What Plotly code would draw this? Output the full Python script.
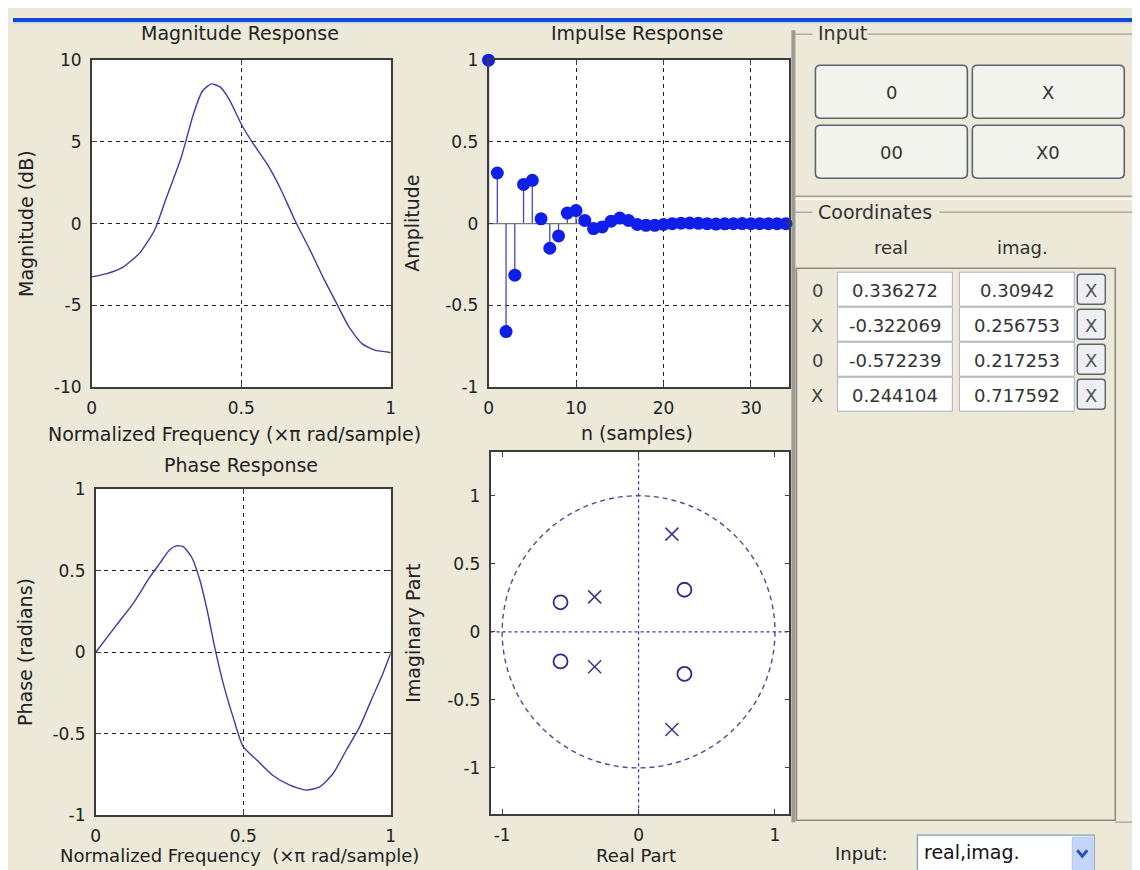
import plotly.graph_objects as go

W, H = 1140, 870
FONT = "DejaVu Sans"
BG = "#ECE9D8"

# ---------------- data ----------------
freq_mag = [0.0, 0.05, 0.105, 0.16, 0.21, 0.25, 0.30, 0.34, 0.37, 0.40, 0.43, 0.46,
            0.50, 0.54, 0.585, 0.63, 0.68, 0.73, 0.78, 0.82, 0.86, 0.905, 0.95, 0.99, 1.0]
mag_db = [-3.25, -3.05, -2.65, -1.8, -0.4, 1.6, 4.1, 6.7, 8.1, 8.55, 8.35, 7.6,
          6.1, 4.9, 3.7, 2.2, 0.2, -1.6, -3.5, -4.9, -6.3, -7.35, -7.75, -7.85, -7.9]

freq_ph = [0.0, 0.07, 0.127, 0.183, 0.217, 0.25, 0.273, 0.296, 0.324, 0.353, 0.38, 0.403,
           0.432, 0.466, 0.50, 0.545, 0.60, 0.658, 0.714, 0.76, 0.805, 0.85, 0.895, 0.94, 0.974, 1.0]
phase_rad = [0.0, 0.166, 0.30, 0.46, 0.545, 0.627, 0.652, 0.648, 0.587, 0.443, 0.239, 0.034,
             -0.19, -0.40, -0.58, -0.66, -0.755, -0.816, -0.846, -0.826, -0.744, -0.60, -0.458, -0.27, -0.13, -0.007]

imp_n = list(range(35))
imp_val = [1.0, 0.31, -0.66, -0.315, 0.24, 0.265, 0.03, -0.15, -0.075, 0.065, 0.08, 0.02,
           -0.03, -0.02, 0.015, 0.035, 0.02, -0.005, -0.01, -0.01, -0.005, 0.0, 0.003, 0.004,
           0.002, 0.0, -0.002, -0.001, 0.0, 0.001, 0.0, 0.0, 0.0, 0.0, 0.0]

coord_type = ["0", "X", "0", "X"]
coord_real = ["0.336272", "-0.322069", "-0.572239", "0.244104"]
coord_imag = ["0.30942", "0.256753", "0.217253", "0.717592"]

button_labels = ["0", "X", "00", "X0"]

mag_ticks = [-10, -5, 0, 5, 10]
ph_ticks = [-1, -0.5, 0, 0.5, 1]
imp_yticks = [-1, -0.5, 0, 0.5, 1]
imp_xticks = [0, 10, 20, 30]
freq_ticks = [0, 0.5, 1]
pz_xticks = [-1, 0, 1]
pz_yticks = [-1, -0.5, 0, 0.5, 1]

# ---------------- helpers ----------------
# map a screen pixel position (as seen in the captured page) to paper fraction
SX, OX = 0.9917, 13.2
SY, OY = 0.977, 17.8

def fx(px):
    return ((px - OX) / SX) / W

def fy(py):
    return 1 - ((py - OY) / SY) / H

def tick_text(vals):
    return ["%g" % v for v in vals]

fig = go.Figure()

LINE_BLUE = "#3c3ca6"

# Magnitude
fig.add_trace(go.Scatter(x=freq_mag, y=mag_db, mode="lines",
                         line=dict(color=LINE_BLUE, width=1.4, shape="spline", smoothing=0.6),
                         xaxis="x", yaxis="y", showlegend=False, hoverinfo="skip"))
# Impulse stems
sx, sy = [], []
for n, v in zip(imp_n, imp_val):
    sx += [n, n, None]
    sy += [0, v, None]
fig.add_trace(go.Scatter(x=sx, y=sy, mode="lines", line=dict(color="#4848b8", width=1.3),
                         xaxis="x2", yaxis="y2", showlegend=False, hoverinfo="skip"))
fig.add_trace(go.Scatter(x=[0, imp_n[-1]], y=[0, 0], mode="lines", line=dict(color="#777777", width=1.3),
                         xaxis="x2", yaxis="y2", showlegend=False, hoverinfo="skip"))
fig.add_trace(go.Scatter(x=imp_n, y=imp_val, mode="markers", marker=dict(color="#0f1ee8", size=13),
                         xaxis="x2", yaxis="y2", showlegend=False, cliponaxis=False, hoverinfo="skip"))
# Phase
fig.add_trace(go.Scatter(x=freq_ph, y=phase_rad, mode="lines",
                         line=dict(color=LINE_BLUE, width=1.4, shape="spline", smoothing=0.6),
                         xaxis="x3", yaxis="y3", showlegend=False, hoverinfo="skip"))

# Pole-zero (conjugate pairs from the coordinate table)
z_re, z_im, p_re, p_im = [], [], [], []
for t, r, i in zip(coord_type, coord_real, coord_imag):
    r, i = float(r), float(i)
    if t == "0":
        z_re += [r, r]; z_im += [i, -i]
    else:
        p_re += [r, r]; p_im += [i, -i]

shapes = []
shapes.append(dict(type="circle", xref="x4", yref="y4", x0=-1, y0=-1, x1=1, y1=1,
                   line=dict(color="#4a4a9a", width=1.4, dash="5px,4px"), layer="below"))
shapes.append(dict(type="line", xref="x4", yref="y4 domain", x0=0, x1=0, y0=0, y1=1,
                   line=dict(color="#3434a8", width=1.2, dash="3px,3px"), layer="below"))
shapes.append(dict(type="line", xref="x4 domain", yref="y4", x0=0, x1=1, y0=0, y1=0,
                   line=dict(color="#3434a8", width=1.2, dash="3px,3px"), layer="below"))

fig.add_trace(go.Scatter(x=z_re, y=z_im, mode="markers",
                         marker=dict(symbol="circle-open", size=14, color="#2c2c8c", line=dict(width=1.8)),
                         xaxis="x4", yaxis="y4", showlegend=False, hoverinfo="skip"))
fig.add_trace(go.Scatter(x=p_re, y=p_im, mode="markers",
                         marker=dict(symbol="x-thin-open", size=13, color="#3a3a8e", line=dict(width=1.6, color="#3a3a8e")),
                         xaxis="x4", yaxis="y4", showlegend=False, hoverinfo="skip"))

# ---------------- axes ----------------
TICKFONT = dict(family=FONT, size=17, color="#222222")
def axis(domain, rng, tickvals, grid=True, anchor=None):
    d = dict(domain=domain, range=rng, tickvals=tickvals, ticktext=tick_text(tickvals),
             showline=True, linecolor="#3c3c3c", linewidth=1.6, mirror="ticks",
             ticks="inside", ticklen=5, tickcolor="#3c3c3c", tickwidth=1,
             showgrid=grid, gridcolor="#1e1e1e", gridwidth=1, griddash="4px,4px",
             zeroline=False, tickfont=TICKFONT, fixedrange=True, ticklabelstandoff=5)
    if anchor:
        d["anchor"] = anchor
    return d

layout_axes = dict(
    xaxis=axis([fx(92), fx(391)], [0, 1], freq_ticks, anchor="y"),
    yaxis=axis([fy(387), fy(60)], [-10, 10], mag_ticks, anchor="x"),
    xaxis2=axis([fx(489), fx(790)], [0, 34.4], imp_xticks, anchor="y2"),
    yaxis2=axis([fy(387), fy(60)], [-1, 1], imp_yticks, anchor="x2"),
    xaxis3=axis([fx(96), fx(391)], [0, 1], freq_ticks, anchor="y3"),
    yaxis3=axis([fy(815), fy(489)], [-1, 1], ph_ticks, anchor="x3"),
    xaxis4=axis([fx(491), fx(790)], [-1.085, 1.106], pz_xticks, grid=False, anchor="y4"),
    yaxis4=axis([fy(814), fy(452)], [-1.34, 1.32], pz_yticks, grid=False, anchor="x4"),
)

# ---------------- background / GUI shapes ----------------
def rect(x0, y0, x1, y1, fill=None, line_color=None, lw=1, layer="below"):
    d = dict(type="rect", xref="paper", yref="paper", x0=fx(x0), x1=fx(x1), y0=fy(y1), y1=fy(y0), layer=layer,
             line=dict(width=lw if line_color else 0, color=line_color or "rgba(0,0,0,0)"))
    if fill:
        d["fillcolor"] = fill
    return d

def hline(x0, x1, y, color, lw=1):
    return dict(type="line", xref="paper", yref="paper", x0=fx(x0), x1=fx(x1), y0=fy(y), y1=fy(y),
                line=dict(color=color, width=lw), layer="below")

def rrect(x0, y0, x1, y1, r, fill, line_color, lw=1.5):
    rx, ry = r / W, r / H
    X0, X1 = fx(x0), fx(x1)
    Y0, Y1 = fy(y1), fy(y0)
    p = (f"M {X0+rx},{Y0} L {X1-rx},{Y0} Q {X1},{Y0} {X1},{Y0+ry} L {X1},{Y1-ry} Q {X1},{Y1} {X1-rx},{Y1} "
         f"L {X0+rx},{Y1} Q {X0},{Y1} {X0},{Y1-ry} L {X0},{Y0+ry} Q {X0},{Y0} {X0+rx},{Y0} Z")
    return dict(type="path", xref="paper", yref="paper", path=p, fillcolor=fill,
                line=dict(color=line_color, width=lw), layer="above")

shapes += [
    dict(type="rect", xref="paper", yref="paper", x0=0, x1=1, y0=1 - 4 / H, y1=1,
         fillcolor="#1149d0", line=dict(width=0), layer="below"),
    dict(type="rect", xref="paper", yref="paper", x0=0, x1=1, y0=1 - 6 / H, y1=1 - 4 / H,
         fillcolor="#c9d6f0", line=dict(width=0), layer="below"),
]

GRAY = "#a19e90"
shapes += [
    rect(792, 30, 796, 822, fill="#9c9a92"),
    hline(796, 813, 34, GRAY, 1.2), hline(868, W + 20, 34, GRAY, 1.2),
    hline(796, W + 20, 196, GRAY, 1.4), hline(796, W + 20, 199, "#ffffff", 1.2),
    hline(796, 813, 212, GRAY, 1.2), hline(940, W + 20, 212, GRAY, 1.2),
    rect(797, 268, 1116, 820, fill=None, line_color="#8e8c80", lw=1.6),
    hline(1116, W + 20, 822, GRAY, 1.2),
]

annotations = []
def text(x, y, s, size=19, color="#222222", anchor="center", angle=0):
    annotations.append(dict(x=fx(x), y=fy(y), xref="paper", yref="paper", text=s, showarrow=False,
                            xanchor=anchor, yanchor="middle", textangle=angle,
                            font=dict(family=FONT, size=size, color=color)))

btn_boxes = [(816, 65, 968, 118), (973, 65, 1125, 118), (816, 125, 968, 178), (973, 125, 1125, 178)]
for (x0, y0, x1, y1), lab in zip(btn_boxes, button_labels):
    shapes.append(rrect(x0, y0, x1, y1, 5, "#f4f4ef", "#5a6472", 1.6))
    text((x0 + x1) / 2, (y0 + y1) / 2 + 1, lab, size=18, color="#333333")

row_tops = [272, 307, 342, 377]
row_h = 34
for k, top in enumerate(row_tops):
    cy = top + row_h / 2
    shapes.append(rect(838, top, 953, top + row_h, fill="#ffffff", line_color="#aab0bc", lw=1, layer="above"))
    shapes.append(rect(960, top, 1075, top + row_h, fill="#ffffff", line_color="#aab0bc", lw=1, layer="above"))
    shapes.append(rrect(1078, top + 2, 1106, top + row_h - 2, 3, "#eeeff2", "#5a6472", 1.4))
    text(818, cy + 1, coord_type[k], size=18, color="#444444")
    text(895.5, cy + 1, coord_real[k], size=18, color="#333333")
    text(1017.5, cy + 1, coord_imag[k], size=18, color="#333333")
    text(1092, cy + 1, "X", size=18, color="#555555")

shapes.append(rect(918, 835, 1095, 880, fill="#ffffff", line_color="#7f9db9", lw=1.2, layer="above"))
shapes.append(rect(1073, 837, 1093, 880, fill="#c3d5fa", line_color="#b0c4ec", lw=1, layer="above"))
shapes.append(dict(type="path", xref="paper", yref="paper",
                   path=f"M {fx(1078)},{fy(850)} L {fx(1083)},{fy(856)} L {fx(1088)},{fy(850)}",
                   line=dict(color="#2a50b0", width=3), layer="above"))

text(817, 33, "Input", size=19, color="#333333", anchor="left")
text(817, 212, "Coordinates", size=19, color="#333333", anchor="left")
text(892, 247, "real", size=18, color="#333333")
text(1023, 247, "imag.", size=18, color="#333333")
text(862, 853, "Input:", size=18, color="#222222")
text(923, 852, "real,imag.", size=19, color="#111111", anchor="left")

text(240, 33, "Magnitude Response", size=19)
text(26, 223, "Magnitude (dB)", size=19, angle=-90)
text(235, 434, "Normalized Frequency (×π rad/sample)", size=19)
text(637, 33, "Impulse Response", size=19)
text(413, 223, "Amplitude", size=19, angle=-90)
text(637, 433, "n (samples)", size=19)
text(241, 465, "Phase Response", size=19)
text(25, 652, "Phase (radians)", size=19, angle=-90)
text(240, 855, "Normalized Frequency  (×π rad/sample)", size=18)
text(414, 633, "Imaginary Part", size=19, angle=-90)
text(636, 855, "Real Part", size=18)

fig.update_layout(
    width=W, height=H, margin=dict(l=0, r=0, t=0, b=0),
    paper_bgcolor=BG, plot_bgcolor="#ffffff",
    showlegend=False, shapes=shapes, annotations=annotations,
    **layout_axes,
)

fig.write_html("out.html")
